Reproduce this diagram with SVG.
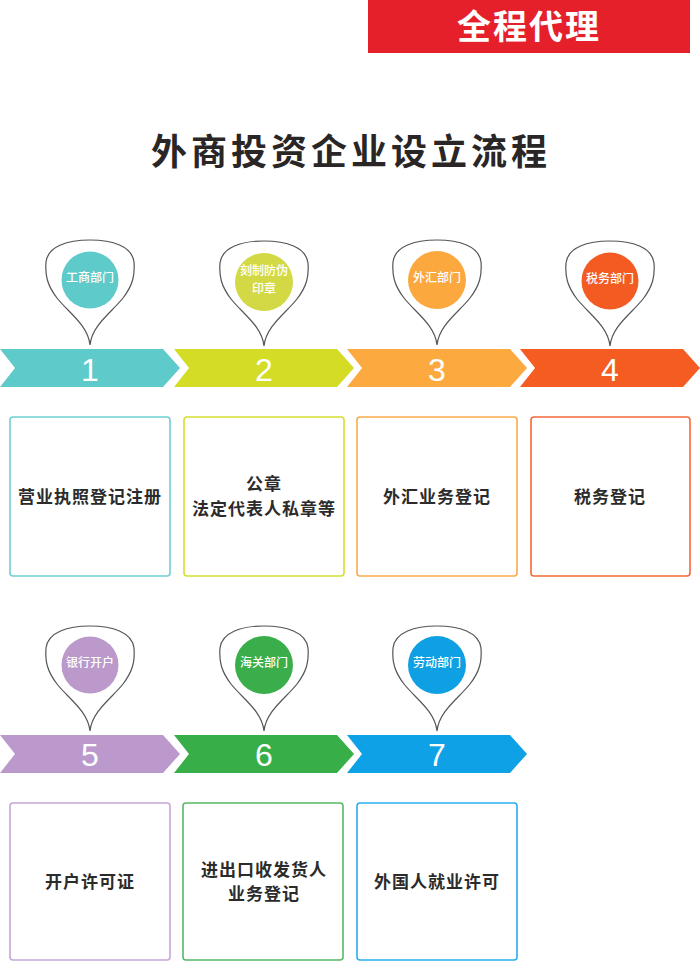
<svg xmlns="http://www.w3.org/2000/svg" width="700" height="962" viewBox="0 0 700 962">
<style>
.cjk{font-family:"Noto Sans CJK SC","Liberation Sans",sans-serif}
.banner{font-size:34px;font-weight:700;fill:#fff;letter-spacing:2px}
.title{font-size:36px;font-weight:700;fill:#2a2626;letter-spacing:4px}
.pinlbl{font-size:12px;font-weight:500;fill:#fff}
.num{font-family:"Liberation Sans",Arial,sans-serif;font-size:32px;fill:#fff}
.box{fill:#fff;stroke-width:1.6}
.boxt{font-size:17px;font-weight:700;fill:#2b2b2b;letter-spacing:1px}
.pin{fill:#fff;stroke:#555;stroke-width:1.2}
</style>
<defs>
<path id="pinShape" d="M0,105 C-2,85 -22,72 -33,58 C-43,45 -45,35 -44,22 C-42,6 -22,0 0,0 C22,0 42,6 44,22 C45,35 43,45 33,58 C22,72 2,85 0,105 Z"/>
<polygon id="arrowShape" points="0,0 163,0 180,19 163,38 0,38 15,19"/>
</defs>
<rect width="700" height="962" fill="#fff"/>
<g id="banner">
<rect x="368" y="0" width="322" height="53" fill="#e5202b"/>
<text class="cjk banner" x="529" y="39" text-anchor="middle">全程代理</text>
</g>
<g id="title">
<text class="cjk title" x="351" y="165" text-anchor="middle">外商投资企业设立流程</text>
</g>
<g id="connectors"></g>
<g id="step1">
<use href="#arrowShape" x="0" y="349" fill="#5ecaca"/>
<text class="num" x="90" y="381" text-anchor="middle">1</text>
<use href="#pinShape" x="90" y="240" class="pin"/>
<circle cx="90" cy="280" r="28.5" fill="#5ecaca"/>
<text class="cjk pinlbl" x="90" y="282" text-anchor="middle">工商部门</text>
<rect class="box" x="10" y="417" width="160" height="159" rx="3" stroke="#6fd0d2"/>
<text class="cjk boxt" x="90" y="503" text-anchor="middle">营业执照登记注册</text>
</g>
<g id="step2">
<use href="#arrowShape" x="174" y="349" fill="#d4dc26"/>
<text class="num" x="264" y="381" text-anchor="middle">2</text>
<use href="#pinShape" x="264" y="241" class="pin"/>
<circle cx="264" cy="282" r="29" fill="#d3d944"/>
<text class="cjk pinlbl" x="264" y="275" text-anchor="middle">刻制防伪</text>
<text class="cjk pinlbl" x="264" y="293" text-anchor="middle">印章</text>
<rect class="box" x="184" y="417" width="160" height="159" rx="3" stroke="#d5e030"/>
<text class="cjk boxt" x="264" y="490" text-anchor="middle">公章</text>
<text class="cjk boxt" x="264" y="515" text-anchor="middle">法定代表人私章等</text>
</g>
<g id="step3">
<use href="#arrowShape" x="347" y="349" fill="#fca93f"/>
<text class="num" x="437" y="381" text-anchor="middle">3</text>
<use href="#pinShape" x="437" y="240" class="pin"/>
<circle cx="437" cy="280" r="29" fill="#fba83f"/>
<text class="cjk pinlbl" x="437" y="282" text-anchor="middle">外汇部门</text>
<rect class="box" x="357" y="417" width="160" height="159" rx="3" stroke="#fbab4a"/>
<text class="cjk boxt" x="437" y="503" text-anchor="middle">外汇业务登记</text>
</g>
<g id="step4">
<use href="#arrowShape" x="520" y="349" fill="#f55c22"/>
<text class="num" x="610" y="381" text-anchor="middle">4</text>
<use href="#pinShape" x="610" y="241" class="pin"/>
<circle cx="610" cy="281" r="28.5" fill="#f35b23"/>
<text class="cjk pinlbl" x="610" y="283" text-anchor="middle">税务部门</text>
<rect class="box" x="531" y="417" width="159" height="159" rx="3" stroke="#f4693a"/>
<text class="cjk boxt" x="610" y="503" text-anchor="middle">税务登记</text>
</g>
<g id="step5">
<use href="#arrowShape" x="0" y="735" fill="#bb99cc"/>
<text class="num" x="90" y="766" text-anchor="middle">5</text>
<use href="#pinShape" x="90" y="626" class="pin"/>
<circle cx="90" cy="665" r="28.5" fill="#bb99cb"/>
<text class="cjk pinlbl" x="90" y="667" text-anchor="middle">银行开户</text>
<rect class="box" x="10" y="803" width="160" height="157" rx="3" stroke="#c6a6d6"/>
<text class="cjk boxt" x="90" y="888" text-anchor="middle">开户许可证</text>
</g>
<g id="step6">
<use href="#arrowShape" x="174" y="735" fill="#38ae48"/>
<text class="num" x="264" y="766" text-anchor="middle">6</text>
<use href="#pinShape" x="264" y="626" class="pin"/>
<circle cx="264" cy="665" r="29" fill="#3aae4a"/>
<text class="cjk pinlbl" x="264" y="667" text-anchor="middle">海关部门</text>
<rect class="box" x="183" y="803" width="160" height="157" rx="3" stroke="#56b965"/>
<text class="cjk boxt" x="264" y="876" text-anchor="middle">进出口收发货人</text>
<text class="cjk boxt" x="264" y="900" text-anchor="middle">业务登记</text>
</g>
<g id="step7">
<use href="#arrowShape" x="347" y="735" fill="#0ea1e6"/>
<text class="num" x="437" y="766" text-anchor="middle">7</text>
<use href="#pinShape" x="437" y="626" class="pin"/>
<circle cx="437" cy="665" r="29" fill="#0fa0e4"/>
<text class="cjk pinlbl" x="437" y="667" text-anchor="middle">劳动部门</text>
<rect class="box" x="357" y="803" width="160" height="157" rx="3" stroke="#2aaeee"/>
<text class="cjk boxt" x="437" y="888" text-anchor="middle">外国人就业许可</text>
</g>
</svg>
